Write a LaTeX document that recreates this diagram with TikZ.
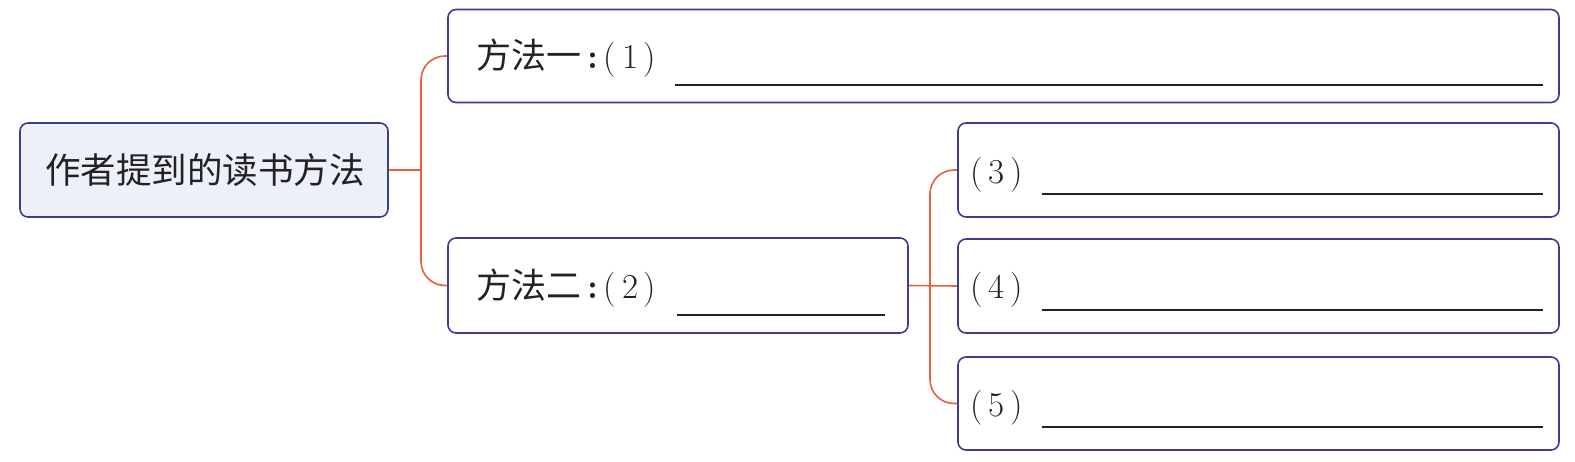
\documentclass[tikz,border=0pt]{standalone}
\usepackage{fontspec}
\usepackage{tikz}
\usetikzlibrary{positioning}
\newfontfamily\cjk{Noto Sans CJK SC}

\definecolor{boxblue}{HTML}{3D3D8F}
\definecolor{linkred}{HTML}{E8603C}
\definecolor{rootfill}{HTML}{EDF0F9}
\definecolor{inkgrey}{HTML}{222222}

\begin{document}
\begin{tikzpicture}[x=1pt,y=-1pt]

\tikzset{mapbox/.style={draw=boxblue, line width=1.6pt, rounded corners=8pt, inner sep=0pt},
         rootbox/.style={mapbox, fill=rootfill},
         link/.style={draw=linkred, line width=1.6pt},
         label/.style={anchor=west, inner sep=0pt, text=inkgrey, font=\fontsize{35}{40}\selectfont},
         blank/.style={draw=inkgrey, line width=1.3pt}}

\useasboundingbox (0,0) rectangle (1575,461);

\node[rootbox, minimum width=368pt, minimum height=94pt] (root) at (204,170) {};
\node[inner sep=0pt, text=inkgrey, font=\fontsize{35.5}{42}\selectfont\cjk] (roottext) at (205,170) {作者提到的读书方法};

\node[mapbox, minimum width=1111pt, minimum height=93pt] (m1) at (1003.5,56) {};
\node[mapbox, minimum width=460pt, minimum height=95pt] (m2) at (678,285.5) {};
\node[mapbox, minimum width=601pt, minimum height=94pt] (s3) at (1258.5,170) {};
\node[mapbox, minimum width=601pt, minimum height=94pt] (s4) at (1258.5,286) {};
\node[mapbox, minimum width=601pt, minimum height=93pt] (s5) at (1258.5,403.5) {};

\node[label] (t1) at (476,58) {{\cjk\fontsize{35}{40}\selectfont 方法一}\,\textbf{:}\,(\,1\,)};
\node[label] (t2) at (476,288) {{\cjk\fontsize{35}{40}\selectfont 方法二}\,\textbf{:}\,(\,2\,)};
\node[label] (t3) at (970,175) {(\,3\,)};
\node[label] (t4) at (970,290) {(\,4\,)};
\node[label] (t5) at (970,408) {(\,5\,)};

\draw[blank] (675,85) -- (1543,85);
\draw[blank] (677,315) -- (885,315);
\draw[blank] (1042,194) -- (1543,194);
\draw[blank] (1042,310) -- (1543,310);
\draw[blank] (1042,427) -- (1543,427);

\coordinate (j1) at (421,170);
\coordinate (j2) at (930,286);

\draw[link] (root.east) -- (j1);
\draw[link, rounded corners=24pt] (m1.west) -| (j1) |- (m2.west);
\draw[link] (m2.east) -- (s4.west);
\draw[link, rounded corners=24pt] (s3.west) -| (j2) |- (s5.west);

\end{tikzpicture}
\end{document}
